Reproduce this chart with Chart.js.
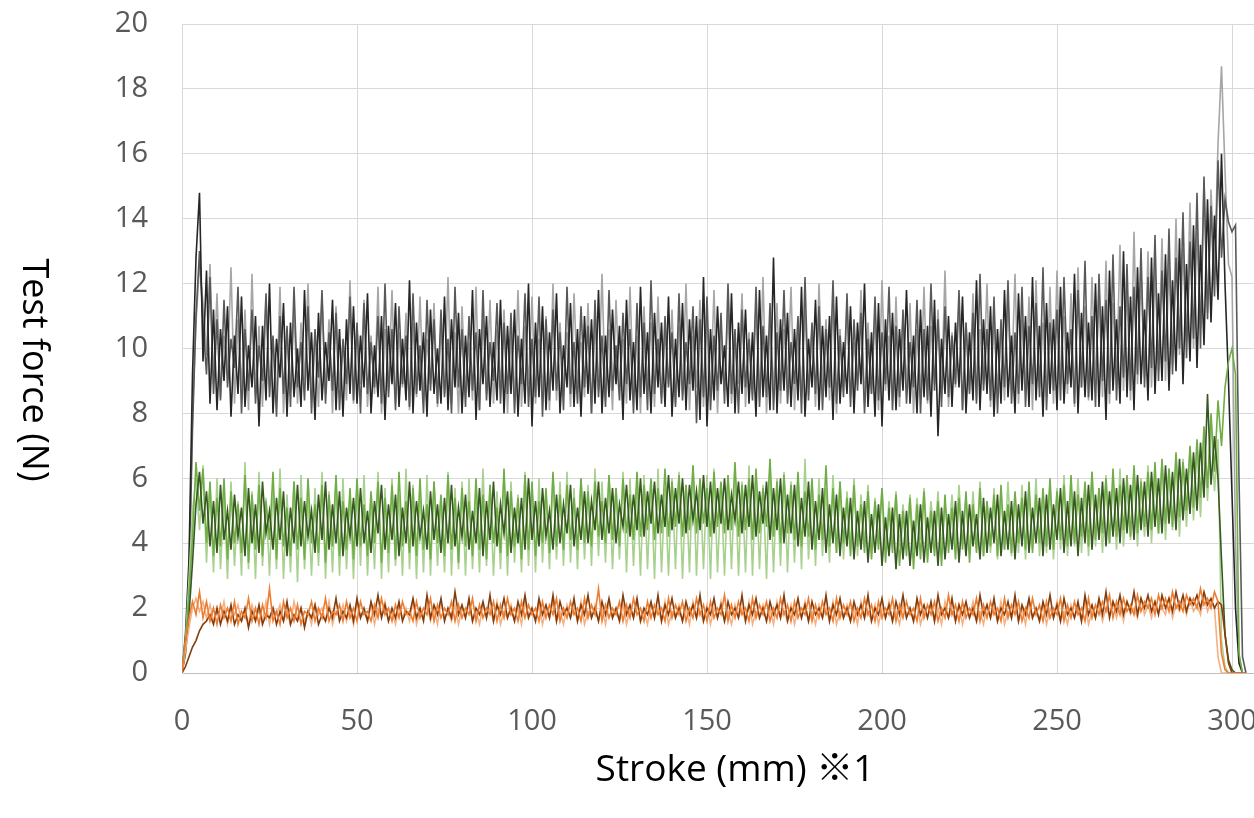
<!DOCTYPE html>
<html>
<head>
<meta charset="utf-8">
<script src="https://cdn.jsdelivr.net/npm/chart.js@4.4.1/dist/chart.umd.min.js"></script>
<style>
html, body { margin: 0; padding: 0; background: #fff; overflow: hidden; }
canvas { display: block; }
</style>
</head>
<body>
<canvas id="grafico" width="1470" height="818"></canvas>
<script>
const tituloX = 'Stroke (mm) ※1'
const tituloY = 'Test force (N)'

// stroke (mm)
const strokes = [
0,1,2,3,4,5,6,7,8,9, 10,11,12,13,14,15,16,17,18,19, 20,21,22,23,24,25,26,27,28,29,
30,31,32,33,34,35,36,37,38,39, 40,41,42,43,44,45,46,47,48,49, 50,51,52,53,54,55,56,57,58,59,
60,61,62,63,64,65,66,67,68,69, 70,71,72,73,74,75,76,77,78,79, 80,81,82,83,84,85,86,87,88,89,
90,91,92,93,94,95,96,97,98,99, 100,101,102,103,104,105,106,107,108,109, 110,111,112,113,114,115,116,117,118,119,
120,121,122,123,124,125,126,127,128,129, 130,131,132,133,134,135,136,137,138,139, 140,141,142,143,144,145,146,147,148,149,
150,151,152,153,154,155,156,157,158,159, 160,161,162,163,164,165,166,167,168,169, 170,171,172,173,174,175,176,177,178,179,
180,181,182,183,184,185,186,187,188,189, 190,191,192,193,194,195,196,197,198,199, 200,201,202,203,204,205,206,207,208,209,
210,211,212,213,214,215,216,217,218,219, 220,221,222,223,224,225,226,227,228,229, 230,231,232,233,234,235,236,237,238,239,
240,241,242,243,244,245,246,247,248,249, 250,251,252,253,254,255,256,257,258,259, 260,261,262,263,264,265,266,267,268,269,
270,271,272,273,274,275,276,277,278,279, 280,281,282,283,284,285,286,287,288,289, 290,291,292,293,294,295,296,297,298,299,
300,301,302,303,304
]

// test force (N) - grupo preto
const preto1 = [
0,1.2,3.5,9.2,12.8,14.8,9.6,12.4,8.3,11.2, 8.1,10.6,9.0,11.3,7.9,10.4,8.6,11.6,8.2,10.1,
8.8,11.0,7.6,10.7,8.4,12.0,8.0,10.3,9.1,11.4, 7.9,10.8,8.5,10.0,8.2,11.8,8.7,10.5,7.8,11.1,
8.4,10.2,9.0,11.5,8.1,10.6,7.9,10.9,8.6,11.3, 8.3,10.4,8.8,11.7,8.0,10.1,8.5,11.0,7.8,10.7,
8.9,11.4,8.2,10.3,8.4,12.1,8.0,10.8,8.7,10.5, 7.9,11.2,8.6,10.0,8.3,11.6,8.1,10.9,8.8,11.1,
8.0,10.4,8.5,11.8,7.8,10.6,8.9,11.0,8.2,10.2, 8.4,11.5,8.0,10.7,8.6,11.2,7.9,10.3,8.3,12.0,
7.6,10.8,8.5,11.3,8.1,10.5,8.7,11.7,8.0,10.1, 8.8,11.4,8.2,10.6,7.9,11.0,8.6,10.9,8.3,11.8,
8.0,10.4,8.5,11.2,8.9,10.7,7.8,11.5,8.4,10.2, 8.1,11.9,8.6,10.5,8.0,11.1,8.8,10.8,8.2,11.6,
7.9,10.3,8.5,11.4,8.1,10.9,8.7,11.0,7.8,12.2, 7.6,10.6,8.4,11.3,8.9,10.1,8.2,11.7,8.0,10.8,
8.6,11.2,8.3,10.5,7.9,11.8,8.5,10.4,8.1,12.8, 8.0,10.9,8.7,11.1,8.2,10.6,8.4,11.9,7.9,10.3,
8.8,11.5,8.1,10.7,8.5,11.0,7.8,11.6,8.3,10.2, 8.6,11.3,8.0,10.8,8.9,12.0,8.2,10.5,7.9,11.4,
7.6,10.9,8.4,11.1,8.1,10.6,8.7,11.8,8.3,10.4, 8.0,11.2,8.5,10.7,7.9,11.5,7.3,10.3,8.6,11.0,
8.2,10.8,8.8,11.6,8.0,10.5,8.4,12.1,8.1,10.9, 8.6,11.3,7.9,10.6,8.3,11.8,8.5,10.4,8.0,11.7,
8.7,11.0,8.2,12.2,8.4,10.7,7.9,11.4,8.6,10.9, 8.1,11.9,8.3,10.5,8.8,12.3,8.0,11.1,8.5,10.8,
8.4,12.0,8.2,11.3,7.8,12.4,8.7,10.9,8.3,13.0, 8.5,11.6,8.1,12.5,8.9,11.2,8.4,12.8,8.6,11.7,
9.0,12.9,8.7,12.1,9.3,13.4,8.9,12.6,9.6,13.8, 9.4,13.2,10.1,14.6,10.8,14.1,11.5,16.0,12.0,9.0,
5.5,2.0,0.3,0,0
]
const preto2 = [
0,0.8,2.8,7.5,11.0,13.0,10.8,9.2,12.2,8.6, 10.9,8.4,11.5,8.8,10.3,9.4,11.9,8.0,10.6,8.7,
11.2,8.3,10.1,9.0,11.7,8.5,10.4,7.9,11.0,8.6, 10.7,8.2,11.9,8.8,10.2,8.4,11.3,8.0,10.6,9.1,
11.8,8.3,10.5,8.7,11.1,8.1,10.3,8.9,11.6,8.4, 10.8,8.0,11.4,8.6,10.2,8.8,11.0,8.3,12.0,8.5,
10.6,8.1,11.3,8.9,10.4,8.2,11.7,8.6,10.1,8.0, 11.5,8.7,10.9,8.3,11.2,8.5,10.3,8.0,11.9,8.8,
10.6,8.2,11.0,8.7,10.5,8.1,11.8,8.4,10.2,9.0, 11.4,8.3,10.8,8.6,11.1,8.0,10.4,8.9,11.7,8.2,
10.3,8.5,11.6,7.9,10.9,8.4,11.2,8.7,10.5,8.1, 11.9,8.6,10.2,8.3,11.3,8.8,10.7,8.0,11.5,8.5,
10.4,8.2,11.8,8.7,10.1,8.4,11.1,8.9,10.6,8.0, 11.4,8.5,10.8,8.1,12.1,8.6,10.3,8.3,11.0,8.8,
10.5,8.2,11.7,8.4,10.2,8.9,11.3,7.7,10.9,8.5, 11.6,8.1,10.4,8.7,11.1,8.3,12.0,8.6,10.6,8.0,
11.2,8.8,10.3,8.4,11.9,8.2,10.7,8.5,11.4,8.1, 10.5,8.7,11.8,8.3,10.2,8.9,11.0,8.0,12.2,8.4,
10.8,8.6,11.3,8.1,10.6,8.8,12.1,8.3,10.4,8.5, 11.7,8.2,10.9,8.7,11.1,8.0,10.3,8.6,11.6,8.4,
10.5,8.9,11.9,8.1,10.7,8.5,11.2,8.3,10.2,8.8, 11.5,8.0,10.6,8.4,12.0,8.7,10.9,8.2,11.3,8.5,
10.4,8.9,11.8,8.1,10.8,8.6,11.1,8.3,12.3,8.7, 10.6,8.4,11.6,8.0,10.9,8.8,12.1,8.3,10.5,8.6,
11.9,8.2,10.7,8.9,11.4,8.5,12.5,8.1,10.8,8.7, 11.2,8.4,12.2,8.9,10.6,8.3,11.8,8.8,12.7,8.5,
11.0,8.2,12.3,9.0,11.5,8.6,12.9,8.4,11.3,9.1, 12.6,8.7,11.9,9.2,13.1,8.8,12.2,9.4,13.5,9.0,
12.4,9.6,13.7,9.2,12.8,10.0,14.2,9.7,13.3,10.3, 14.8,10.0,15.3,10.9,14.4,11.6,15.8,12.8,14.6,13.9,
13.6,13.8,6.0,0.5,0
]
const preto3 = [
0,1.0,3.0,8.0,10.8,12.6,11.4,9.8,12.6,8.9, 11.7,8.5,10.4,9.2,12.5,8.3,10.9,8.8,11.2,8.1,
12.3,8.6,10.7,8.2,11.5,8.9,10.3,8.4,11.9,8.0, 10.5,8.7,11.2,8.3,10.8,9.0,12.0,8.5,10.4,8.2,
11.6,8.6,10.9,8.0,11.3,8.8,10.2,8.4,12.1,8.3, 10.7,8.9,11.5,8.2,10.4,8.6,11.9,8.0,10.6,8.7,
11.8,8.3,10.5,8.8,11.1,8.1,10.8,8.5,11.6,8.4, 10.3,8.9,11.4,8.2,10.7,8.6,12.2,8.3,10.5,8.0,
11.3,8.7,10.2,8.4,11.9,8.1,10.9,8.6,11.5,8.3, 10.6,8.8,11.2,8.0,10.4,8.5,11.8,8.2,10.7,8.9,
11.6,8.3,10.3,8.7,11.0,8.1,12.0,8.4,10.8,8.6, 10.5,8.2,11.7,8.9,10.2,8.5,11.4,8.0,10.9,8.7,
12.3,8.4,10.6,8.1,11.5,8.8,10.3,8.3,11.9,8.6, 10.4,8.0,11.3,8.7,10.8,8.2,11.6,8.5,10.5,8.9,
11.2,8.3,10.7,8.6,12.0,8.1,10.4,8.8,11.5,8.2, 10.9,8.5,11.8,8.0,10.6,8.7,11.1,8.3,10.3,8.9,
11.7,8.2,10.5,8.6,11.3,8.4,12.2,8.0,10.8,8.7, 11.4,8.3,10.6,8.9,11.9,8.1,10.4,8.5,11.2,8.6,
10.7,8.2,12.0,8.8,10.9,8.4,11.5,8.0,10.6,8.7, 11.3,8.5,10.2,8.9,11.8,8.3,10.8,8.6,11.1,8.1,
12.1,8.7,10.4,8.4,11.6,8.2,10.9,8.8,11.4,8.0, 10.6,8.5,11.9,8.3,10.7,8.9,11.2,8.6,12.4,8.2,
10.5,8.8,11.4,8.1,10.8,8.7,11.7,8.4,10.6,8.9, 12.0,8.2,11.1,8.6,10.7,8.4,11.5,8.9,12.3,8.3,
10.9,8.7,11.6,8.1,12.1,8.8,10.8,8.5,11.9,8.3, 12.4,8.9,11.0,8.6,11.7,8.2,12.5,8.8,11.3,8.4,
12.2,8.9,11.8,8.5,12.7,8.3,11.4,9.0,13.2,8.7, 11.9,8.4,13.6,8.9,12.3,9.1,13.0,8.8,12.5,9.3,
13.4,9.0,12.7,9.5,14.0,9.8,13.1,10.2,14.5,10.0, 13.6,10.6,15.2,11.1,14.9,12.4,16.3,18.7,15.5,12.6,
12.2,4.0,0.5,0,0
]

// grupo verde
const verde1 = [
0,0.6,1.8,3.4,5.2,6.2,4.6,5.6,3.9,5.3, 3.7,5.8,4.1,5.0,3.8,5.5,4.2,5.1,3.6,5.7,
4.0,5.2,3.7,5.9,4.3,5.0,3.8,5.4,4.1,5.6, 3.6,5.1,4.0,5.8,3.9,5.3,4.2,5.0,3.7,5.5,
4.1,5.9,3.8,5.2,4.0,5.6,3.6,5.1,4.2,5.4, 3.9,5.7,4.0,5.0,3.7,5.3,4.3,5.8,3.8,5.2,
4.1,5.5,3.6,5.1,4.0,5.9,3.9,5.3,4.2,5.0, 3.8,5.6,4.1,5.2,3.7,5.4,4.0,5.8,3.9,5.1,
4.2,5.5,3.8,5.0,4.0,5.7,3.6,5.3,4.1,5.9, 3.9,5.2,4.3,5.6,3.7,5.1,4.0,5.4,3.8,6.0,
4.1,5.3,3.9,5.7,4.2,5.0,3.8,5.5,4.0,5.2, 4.3,5.8,3.9,5.1,4.1,5.6,4.0,5.3,4.4,5.9,
4.1,5.4,4.3,5.7,4.0,5.2,4.5,5.8,4.2,5.5, 4.4,6.0,4.2,5.6,4.6,5.9,4.3,5.5,4.5,6.1,
4.4,5.7,4.6,6.0,4.3,5.8,4.7,5.6,4.4,6.1, 4.5,5.9,4.3,5.7,4.6,6.0,4.4,5.5,4.7,5.9,
4.3,5.8,4.5,6.1,4.2,5.6,4.6,5.9,4.1,5.7, 4.4,6.0,4.0,5.5,4.3,5.8,3.9,5.4,4.2,5.9,
3.8,5.3,4.1,5.7,3.7,5.2,4.0,5.5,3.6,5.1, 3.9,5.4,3.5,5.0,3.8,5.3,3.4,4.9,3.7,5.2,
3.3,4.8,3.6,5.1,3.2,4.9,3.5,5.0,3.3,4.7, 3.6,5.2,3.4,4.8,3.7,5.0,3.3,5.1,3.5,4.9,
3.8,5.3,3.4,5.0,3.6,5.2,3.9,4.9,3.5,5.4, 3.7,5.1,4.0,5.5,3.6,5.0,3.8,5.3,3.5,5.2,
3.9,5.6,3.7,5.1,4.0,5.4,3.6,5.5,3.8,5.2, 4.1,5.7,3.7,5.3,3.9,5.6,3.6,5.4,4.0,5.8,
3.8,5.5,4.1,5.9,3.9,5.6,4.2,5.7,4.0,6.0, 4.3,5.8,4.1,6.1,4.4,5.9,4.2,6.2,4.5,6.0,
4.3,6.4,4.6,6.2,4.4,6.6,4.7,6.3,4.9,6.8, 5.0,7.1,5.4,8.6,5.8,7.3,6.0,3.5,1.2,0.4,
0.1,0,0,0,0
]
const verde2 = [
0,0.9,2.4,4.2,6.5,5.0,6.3,4.0,5.9,3.6, 5.4,3.9,6.0,3.5,5.6,4.0,5.2,3.7,6.1,3.4,
5.5,3.8,5.8,3.6,5.3,4.1,6.2,3.5,5.7,3.9, 5.1,3.6,5.9,3.8,5.4,3.5,6.0,4.0,5.2,3.7,
5.8,3.4,5.5,3.9,6.1,3.6,5.3,3.8,5.7,3.5, 6.0,3.9,5.2,3.6,5.6,4.0,5.9,3.4,5.4,3.7,
5.8,3.5,6.2,3.9,5.3,3.7,5.7,3.6,6.0,3.8, 5.2,3.5,5.9,4.0,5.5,3.6,6.1,3.8,5.4,3.4,
5.7,3.9,5.3,3.6,6.0,3.8,5.5,3.5,5.8,4.0, 5.1,3.7,6.3,3.6,5.6,3.9,5.4,3.5,6.1,3.8,
5.9,3.6,5.3,4.0,5.7,3.7,6.2,3.9,5.5,3.8, 5.8,4.1,5.4,3.8,6.0,4.0,5.6,3.9,5.9,4.2,
5.3,4.0,6.1,4.1,5.7,3.9,6.0,4.3,5.5,4.1, 6.2,4.2,5.8,4.4,6.0,4.1,5.7,4.3,6.3,4.2,
5.9,4.5,6.1,4.2,5.8,4.4,6.4,4.3,6.0,4.6, 5.7,4.2,6.2,4.5,5.9,4.3,6.1,4.4,6.5,4.2,
5.8,4.4,6.0,4.1,6.3,4.3,5.7,4.5,6.6,4.2, 5.9,4.0,6.1,4.3,5.8,4.1,6.2,3.9,5.6,4.2,
6.0,3.8,5.5,4.1,6.4,3.9,5.7,3.7,5.9,4.0, 5.4,3.6,5.8,3.9,5.2,3.7,5.6,3.5,5.3,3.8,
5.7,3.4,5.1,3.7,5.5,3.3,5.0,3.6,5.4,3.2, 5.2,3.5,5.6,3.4,5.0,3.6,5.3,3.3,5.5,3.7,
5.1,3.5,5.4,3.8,5.6,3.4,5.2,3.7,5.7,3.6, 5.3,3.9,5.5,3.6,5.8,3.8,5.2,3.7,5.6,4.0,
5.4,3.8,5.9,3.7,5.5,4.0,5.7,3.9,6.0,3.8, 5.6,4.1,5.8,3.9,6.1,4.0,5.5,4.2,5.9,3.9,
6.2,4.1,5.7,4.3,6.0,4.0,6.3,4.2,5.8,4.4, 6.1,4.2,6.4,4.3,5.9,4.5,6.2,4.4,6.5,4.3,
6.6,4.6,6.3,4.5,6.8,4.8,6.5,5.0,7.0,5.1, 7.2,5.4,7.6,5.7,8.0,6.2,8.4,7.0,8.8,9.6,
10.0,9.2,0.6,0,0
]
const verde3 = [
0,1.0,2.9,5.0,6.0,4.4,6.4,3.4,5.7,3.1, 6.0,3.2,5.5,2.9,5.9,3.3,5.3,3.0,6.5,3.2,
5.6,2.9,6.2,3.3,5.4,3.0,5.8,3.2,6.3,2.9, 5.5,3.1,5.9,2.8,6.1,3.2,5.4,3.0,5.7,3.3,
6.2,2.9,5.6,3.1,5.9,3.0,6.0,3.2,5.5,2.9, 5.8,3.3,6.1,3.0,5.4,3.2,6.2,2.9,5.7,3.1,
6.0,3.3,5.5,3.0,6.3,3.2,5.8,2.9,5.6,3.1, 6.1,3.0,5.9,3.3,5.4,3.1,6.2,3.0,5.7,3.2,
5.9,3.0,6.0,3.2,5.5,3.1,6.3,3.3,5.8,3.0, 5.6,3.2,6.1,3.0,5.9,3.4,5.5,3.1,6.2,3.3,
5.8,3.1,6.0,3.4,5.6,3.2,6.1,3.5,5.9,3.3, 6.2,3.4,5.7,3.2,6.0,3.5,5.8,3.3,6.3,3.6,
5.9,3.4,6.1,3.2,5.7,3.5,6.2,3.1,6.0,3.3, 5.8,3.0,6.1,3.2,5.9,2.9,6.3,3.1,5.7,3.0,
6.0,3.2,6.2,2.9,5.8,3.1,6.4,3.0,5.9,3.2, 6.1,2.9,6.3,3.1,5.8,3.0,6.0,3.2,6.2,3.0,
5.9,3.1,6.4,3.0,6.1,3.2,5.8,2.9,6.3,3.1, 6.0,3.3,6.2,3.1,5.9,3.4,6.1,3.2,6.6,3.5,
5.8,3.3,6.0,3.6,5.7,3.4,6.1,3.7,5.9,3.5, 5.6,3.8,6.0,3.6,5.5,3.9,5.8,3.7,5.4,4.0,
5.7,3.8,5.3,4.1,5.6,3.9,5.2,4.0,5.5,3.8, 5.4,4.1,5.7,3.9,5.3,4.0,5.6,3.8,5.2,4.1,
5.5,3.9,5.8,4.0,5.4,3.7,5.6,3.8,5.9,3.6, 5.3,3.7,5.7,3.5,5.5,3.8,5.9,3.6,5.4,3.7,
5.8,3.5,5.6,3.8,6.0,3.6,5.5,3.7,5.9,3.5, 5.7,3.8,6.1,3.6,5.6,3.9,6.0,3.7,5.8,3.6,
6.2,3.9,5.7,3.7,6.1,4.0,5.9,3.8,6.3,3.9, 5.8,4.1,6.2,3.9,6.0,4.2,6.4,4.0,6.1,4.3,
6.5,4.1,6.3,4.4,6.7,4.2,6.6,4.5,6.9,4.7, 7.0,4.8,7.4,5.3,7.8,5.6,7.2,1.0,0.2,0,
0,0,0,0,0
]

// grupo laranja
const laranja1 = [
0,0.2,0.5,0.8,1.0,1.3,1.5,1.6,1.8,1.5, 2.0,1.5,1.9,1.6,2.1,1.5,1.8,1.6,2.0,1.4,
1.9,1.6,2.1,1.5,1.8,1.7,2.0,1.5,1.9,1.6, 2.2,1.5,1.8,1.6,2.0,1.4,1.9,1.7,2.1,1.5,
1.8,1.6,2.0,1.7,2.3,1.6,1.9,1.7,2.1,1.6, 2.3,1.7,2.0,1.6,2.2,1.8,2.4,1.7,2.1,1.6,
2.0,1.7,2.2,1.6,1.9,1.8,2.3,1.7,2.0,1.6, 2.4,1.7,2.1,1.8,2.3,1.6,2.0,1.7,2.5,1.8,
2.1,1.7,2.3,1.6,2.0,1.8,2.2,1.7,2.4,1.6, 2.1,1.8,2.3,1.7,2.0,1.6,2.2,1.8,2.4,1.7,
2.0,1.6,2.3,1.8,2.1,1.7,2.4,1.6,2.2,1.8, 2.0,1.7,2.3,1.6,2.1,1.8,2.4,1.7,2.0,1.6,
2.2,1.8,2.3,1.7,2.0,1.6,2.4,1.8,2.1,1.7, 2.3,1.6,2.0,1.8,2.2,1.7,2.4,1.6,2.1,1.8,
2.3,1.7,2.0,1.6,2.2,1.8,2.1,1.7,2.4,1.6, 2.0,1.8,2.3,1.7,2.1,1.6,2.2,1.8,2.0,1.7,
2.4,1.6,2.1,1.8,2.3,1.7,2.0,1.6,2.2,1.8, 2.1,1.7,2.4,1.6,2.0,1.8,2.3,1.7,2.1,1.6,
2.2,1.8,2.0,1.7,2.4,1.6,2.1,1.8,2.3,1.7, 2.0,1.6,2.2,1.8,2.1,1.7,2.4,1.6,2.0,1.8,
2.3,1.7,2.1,1.6,2.2,1.8,2.4,1.7,2.0,1.6, 2.3,1.8,2.1,1.7,2.2,1.6,2.4,1.8,2.0,1.7,
2.3,1.6,2.1,1.8,2.2,1.7,2.0,1.6,2.4,1.8, 2.1,1.7,2.3,1.6,2.0,1.8,2.2,1.7,2.4,1.6,
2.1,1.8,2.3,1.7,2.0,1.6,2.2,1.8,2.4,1.7, 2.1,1.6,2.3,1.8,2.0,1.7,2.2,1.6,2.4,1.8,
2.1,1.7,2.3,1.8,2.5,1.7,2.2,1.9,2.4,1.8, 2.2,1.9,2.5,1.8,2.3,2.0,2.4,1.9,2.2,1.8,
2.4,2.0,2.3,1.9,2.5,2.0,2.4,1.9,2.3,2.1, 2.4,2.0,2.5,2.1,2.3,2.0,2.2,2.1,1.2,0.3,
0,0,0,0,0
]
const laranja2 = [
0,1.0,1.7,2.2,1.8,2.5,1.7,2.2,1.6,2.0, 1.5,2.1,1.7,2.0,1.6,2.2,1.5,1.9,1.7,2.3,
1.6,2.0,1.5,2.1,1.7,2.6,1.6,1.9,1.5,2.2, 1.7,2.0,1.6,2.1,1.5,1.9,1.8,2.2,1.6,2.0,
1.7,2.3,1.6,1.9,1.8,2.1,1.6,2.2,1.7,2.0, 1.6,2.2,1.8,1.9,1.6,2.1,1.7,2.3,1.8,2.0,
1.6,2.1,1.7,2.2,1.8,1.9,1.6,2.2,1.7,2.0, 1.8,2.3,1.6,2.1,1.7,2.0,1.8,2.2,1.6,2.1,
1.7,2.0,1.8,2.3,1.6,2.1,1.7,2.0,1.8,2.2, 1.6,2.1,1.7,2.3,1.8,2.0,1.6,2.2,1.7,2.1,
1.8,2.0,1.6,2.2,1.7,2.1,1.8,2.3,1.6,2.0, 1.7,2.2,1.8,2.0,1.6,2.3,1.7,2.1,1.8,2.6,
1.6,2.1,1.7,2.0,1.8,2.2,1.6,2.1,1.7,2.3, 1.8,2.0,1.6,2.2,1.7,2.1,1.8,2.0,1.6,2.3,
1.7,2.1,1.8,2.2,1.6,2.0,1.7,2.3,1.8,2.1, 1.6,2.2,1.7,2.0,1.8,2.4,1.6,2.1,1.7,2.2,
1.8,2.0,1.6,2.3,1.7,2.1,1.8,2.2,1.6,2.0, 1.7,2.3,1.8,2.1,1.6,2.2,1.7,2.0,1.8,2.3,
1.6,2.1,1.7,2.2,1.8,2.0,1.6,2.3,1.7,2.1, 1.8,2.2,1.6,2.0,1.7,2.3,1.8,2.1,1.6,2.2,
1.7,2.0,1.8,2.3,1.6,2.1,1.7,2.2,1.8,2.0, 1.6,2.3,1.7,2.1,1.8,2.2,1.6,2.0,1.7,2.4,
1.8,2.1,1.6,2.2,1.7,2.0,1.8,2.3,1.6,2.1, 1.7,2.2,1.8,2.0,1.6,2.3,1.7,2.1,1.8,2.2,
1.6,2.0,1.7,2.3,1.8,2.1,1.6,2.2,1.7,2.0, 1.8,2.3,1.6,2.1,1.7,2.2,1.8,2.0,1.6,2.3,
1.7,2.1,1.8,2.2,1.9,2.4,1.7,2.2,1.8,2.3, 1.9,2.1,1.8,2.4,1.9,2.2,2.0,2.3,1.8,2.4,
2.0,2.3,1.9,2.5,2.0,2.2,1.9,2.4,2.1,2.3, 2.0,2.6,2.1,2.3,2.0,2.5,2.2,0.6,0.1,0,
0,0,0,0,0
]
const laranja3 = [
0,0.7,1.4,2.0,2.3,1.9,2.2,1.7,2.1,1.6, 1.9,1.7,2.2,1.5,2.0,1.8,2.1,1.6,1.9,1.5,
2.1,1.7,1.9,1.6,2.2,1.5,2.0,1.8,2.1,1.6, 1.9,1.5,2.2,1.7,2.0,1.6,1.9,1.5,2.1,1.8,
2.0,1.6,2.2,1.5,1.9,1.7,2.1,1.6,2.0,1.5, 2.2,1.7,1.9,1.6,2.1,1.5,2.0,1.8,2.2,1.6,
1.9,1.5,2.1,1.7,2.0,1.6,2.2,1.5,1.9,1.7, 2.1,1.6,2.0,1.5,2.2,1.7,1.9,1.6,2.1,1.5,
2.0,1.7,2.2,1.6,1.9,1.5,2.1,1.7,2.0,1.6, 2.2,1.5,1.9,1.7,2.1,1.6,2.0,1.5,2.2,1.7,
1.9,1.6,2.1,1.5,2.0,1.7,2.2,1.6,1.9,1.5, 2.1,1.7,2.0,1.6,2.2,1.5,1.9,1.7,2.1,1.6,
2.0,1.5,2.2,1.7,1.9,1.6,2.1,1.5,2.0,1.7, 2.2,1.6,1.9,1.5,2.1,1.7,2.0,1.6,2.2,1.5,
1.9,1.7,2.1,1.6,2.0,1.5,2.2,1.7,1.9,1.6, 2.1,1.5,2.0,1.7,2.2,1.6,1.9,1.5,2.1,1.7,
2.0,1.6,2.2,1.5,1.9,1.7,2.1,1.6,2.0,1.5, 2.2,1.7,1.9,1.6,2.1,1.5,2.0,1.7,2.2,1.6,
1.9,1.5,2.1,1.7,2.0,1.6,2.2,1.5,1.9,1.7, 2.1,1.6,2.0,1.5,2.2,1.7,1.9,1.6,2.1,1.5,
2.0,1.7,2.2,1.6,1.9,1.5,2.1,1.7,2.0,1.6, 2.2,1.5,1.9,1.7,2.1,1.6,2.0,1.5,2.2,1.7,
1.9,1.6,2.1,1.5,2.0,1.7,2.2,1.6,1.9,1.5, 2.1,1.7,2.0,1.6,2.2,1.5,1.9,1.7,2.1,1.6,
2.0,1.5,2.2,1.7,1.9,1.6,2.1,1.5,2.0,1.7, 2.2,1.6,1.9,1.5,2.1,1.7,2.0,1.6,2.2,1.5,
1.9,1.7,2.1,1.6,2.0,1.8,2.2,1.7,2.1,1.6, 2.2,1.8,2.0,1.7,2.3,1.8,2.1,1.7,2.2,1.9,
2.0,1.8,2.3,1.7,2.1,1.9,2.2,1.8,2.3,1.9, 2.1,1.8,2.4,1.9,2.2,2.0,0.5,0,0,0,
0,0,0,0,0
]

// titulos dos eixos (o do eixo y gira no sentido horario, como no original)
const titulos = {
    id: 'titulos',
    afterDraw(chart) {
        const c = chart.ctx
        c.save()
        c.fillStyle = '#000000'
        c.textAlign = 'center'
        c.textBaseline = 'middle'
        c.font = '37px "Open Sans", "Noto Sans CJK JP", sans-serif'
        c.fillText(tituloX, 735, 770)
        c.font = '36px "Open Sans", sans-serif'
        c.translate(33, 370)
        c.rotate(Math.PI / 2)
        c.fillText(tituloY, 0, 0)
        c.restore()
    }
}

function linha(valores, cor) {
    return {
        data: valores,
        borderColor: cor,
        borderWidth: 1.6,
        pointRadius: 0,
        tension: 0,
        fill: false
    }
}

const fonteTicks = { family: '"Open Sans", sans-serif', size: 29 }

const ctx = document.getElementById('grafico').getContext('2d')

const grafico = new Chart(ctx, {
    type: 'line',
    data: {
        labels: strokes,
        datasets: [
            linha(laranja2, '#ed7d31'),
            linha(laranja1, '#843c0c'),
            linha(laranja3, '#f4b183'),
            linha(verde1, '#385723'),
            linha(verde2, '#70ad47'),
            linha(verde3, '#a9d18e'),
            linha(preto1, '#262626'),
            linha(preto2, '#595959'),
            linha(preto3, '#a6a6a6')
        ]
    },
    options: {
        responsive: false,
        animation: false,
        // a area do grafico passa da janela; o eixo x fica cortado depois do 300
        layout: { padding: { top: 24, right: 63, left: 0, bottom: 0 } },
        plugins: {
            legend: { display: false },
            tooltip: { enabled: false }
        },
        scales: {
            x: {
                type: 'linear',
                min: 0,
                max: 350,
                ticks: { stepSize: 50, color: '#595959', font: fonteTicks, padding: 31, maxRotation: 0 },
                grid: { color: '#d9d9d9', drawTicks: false },
                border: { color: '#bfbfbf' },
                afterFit(escala) { escala.height = 145 }
            },
            y: {
                min: 0,
                max: 20,
                ticks: { stepSize: 2, color: '#595959', font: fonteTicks, padding: 6 },
                // marca invisivel so para afastar os numeros do eixo
                grid: { color: '#d9d9d9', drawTicks: true, tickLength: 28, tickColor: 'rgba(0,0,0,0)' },
                border: { color: '#d9d9d9' },
                afterFit(escala) { escala.width = 182 }
            }
        }
    },
    plugins: [titulos]
})
</script>
</body>
</html>
